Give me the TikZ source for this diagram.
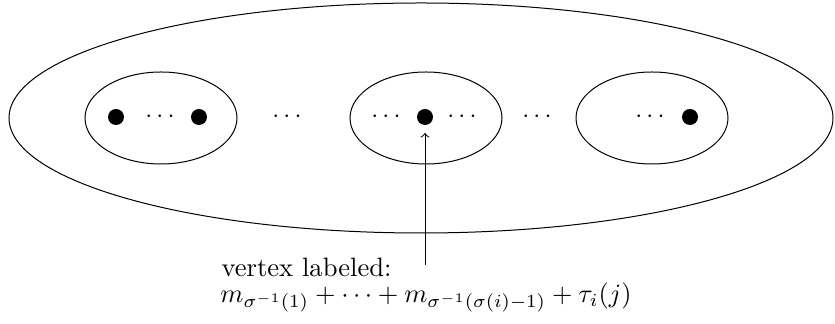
\documentclass[tikz,border=0pt]{standalone}
\usepackage{graphicx}
\begin{document}
\begin{tikzpicture}[x=0.4pt,y=-0.4pt,
  vdot/.style={circle,fill=black,inner sep=0pt,minimum size=6.4pt},
  dts/.style={inner sep=0pt}]
\useasboundingbox (0,0) rectangle (835,324);
\draw (421,118) ellipse [x radius=412, y radius=115];
\draw (161,118) ellipse [x radius=76, y radius=46];
\draw (426,118) ellipse [x radius=76, y radius=46];
\draw (652,118) ellipse [x radius=76, y radius=46];
% left group
\node[vdot] (a1) at (116,117) {};
\node[dts] (d1) at (160,117) {$\cdots$};
\node[vdot] (a2) at (199,117) {};
\node[dts] (d2) at (287,117) {$\cdots$};
% middle group
\node[dts] (d3) at (386,117) {$\cdots$};
\node[vdot] (v) at (425,117) {};
\node[dts] (d4) at (462,117) {$\cdots$};
\node[dts] (d5) at (537,117) {$\cdots$};
% right group
\node[dts] (d6) at (650,117) {$\cdots$};
\node[vdot] (a3) at (690,117) {};
% label
\node[anchor=base west,inner sep=0pt] (lab) at (221,277) {\resizebox{68pt}{!}{vertex labeled:}};
\node[anchor=base west,inner sep=0pt] (form) at (220,303) {\resizebox{164.4pt}{!}{$m_{\sigma^{-1}(1)}+\cdots+m_{\sigma^{-1}(\sigma(i)-1)}+\tau_i(j)$}};
\coordinate (s) at (425,265);
\draw[->,shorten >=3pt] (s) -- (v);
\end{tikzpicture}
\end{document}
